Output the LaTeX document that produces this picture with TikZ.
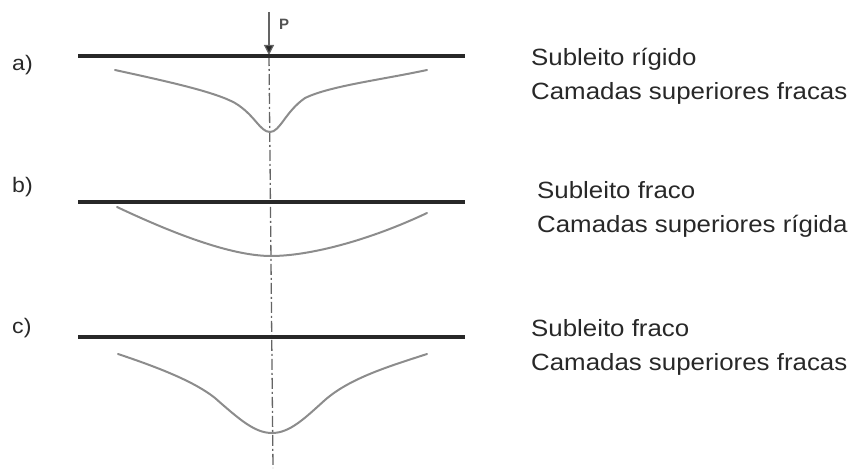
\documentclass[tikz,border=0pt]{standalone}
\usepackage{fontspec}
\setmainfont{Liberation Sans}
\newfontfamily\txtfont{Liberation Sans}[FakeStretch=1.1]
\usetikzlibrary{arrows.meta,positioning}
\definecolor{ink}{RGB}{40,40,40}
\definecolor{defl}{RGB}{140,140,140}
\definecolor{axisc}{RGB}{100,100,100}
\tikzset{
  surf/.style={draw=ink,line width=3.2pt},
  bowl/.style={draw=defl,line width=2pt,line cap=round},
  axisln/.style={draw=axisc,line width=1.3pt,dash pattern=on 11pt off 3pt on 2pt off 3pt},
  load/.style={-{Triangle[length=10pt,width=10pt,fill=ink]},draw=axisc,line width=1.2pt},
  tag/.style={inner sep=0pt,anchor=west,font=\txtfont\fontsize{21}{24}\selectfont,text=ink},
  note/.style={inner sep=0pt,anchor=west,align=left,font=\txtfont\fontsize{23.5}{34}\selectfont,text=ink},
}

\begin{document}
\begin{tikzpicture}[x=1pt,y=-1pt]
  \useasboundingbox (0,0) rectangle (853,468);
  % load and axis
  \coordinate (top) at (269,12);
  \coordinate (hit) at (269,55);
  \coordinate (bot) at (273,468);
  \draw[axisln] (hit) -- (bot);
  \draw[load] (top) -- (hit);
  \node[inner sep=0pt,font=\bfseries\fontsize{15}{16}\selectfont,text=ink!80] (P) at (284,24) {P};
  % surfaces
  \coordinate (a1) at (78,56);  \coordinate (a2) at (465,56);
  \coordinate (b1) at (78,202); \coordinate (b2) at (465,202);
  \coordinate (c1) at (78,337); \coordinate (c2) at (465,337);
  \draw[surf] (a1) -- (a2);
  \draw[surf] (b1) -- (b2);
  \draw[surf] (c1) -- (c2);
  % deflection bowls
  \draw[bowl] (115,70) .. controls (170,82) and (215,92) .. (235,103)
     .. controls (255,115) and (260,132) .. (270,132)
     .. controls (280,132) and (285,112) .. (305,98)
     .. controls (330,86) and (380,80) .. (427,70);
  \draw[bowl] (117,207) .. controls (170,232) and (230,256) .. (271,256)
     .. controls (310,256) and (370,240) .. (427,213);
  \draw[bowl] (118,354) .. controls (160,368) and (195,382) .. (215,398)
     .. controls (240,420) and (255,433) .. (272,433)
     .. controls (290,433) and (305,418) .. (325,400)
     .. controls (350,378) and (390,366) .. (427,354);
  % case tags
  \node[tag] (ta) at (12,65) {a)};
  \node[tag] (tb) at (12,187) {b)};
  \node[tag] (tc) at (12,328) {c)};
  % descriptions
  \node[note] (na) at (531,76) {Subleito rígido\\Camadas superiores fracas};
  \node[note] (nb) at (537,209) {Subleito fraco\\Camadas superiores rígida};
  \node[note] (nc) at (531,347) {Subleito fraco\\Camadas superiores fracas};
\end{tikzpicture}
\end{document}
